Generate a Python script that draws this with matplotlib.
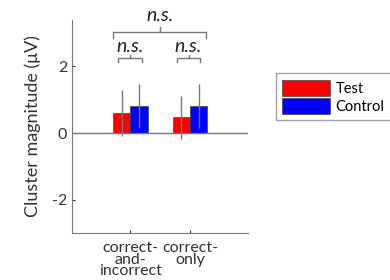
import matplotlib
matplotlib.use('Agg')
import matplotlib.pyplot as plt
import numpy as np

plt.rcParams['font.family'] = ['Lato', 'DejaVu Sans']
plt.rcParams['axes.unicode_minus'] = False

categories = ['correct-\nand-\nincorrect', 'correct-\nonly']
test_vals = [0.6, 0.47]
test_err = [0.68, 0.65]
control_vals = [0.81, 0.81]
control_err = [0.66, 0.66]
yticks = [-2, 0, 2]

fig = plt.figure(figsize=(3.9, 2.8), dpi=100)
ax = fig.add_axes([0.185, 0.168, 0.451, 0.761])

x = np.arange(1, len(categories) + 1)
w = 0.29
gray = '#777777'
ax.bar(x - w / 2, test_vals, w, color='#ff0000', edgecolor='#444444', linewidth=0.5, label='Test')
ax.bar(x + w / 2, control_vals, w, color='#0000ff', edgecolor='#444444', linewidth=0.5, label='Control')
ax.errorbar(x - w / 2, test_vals, yerr=test_err, fmt='none', ecolor=gray, elinewidth=1, capsize=0)
ax.errorbar(x + w / 2, control_vals, yerr=control_err, fmt='none', ecolor=gray, elinewidth=1, capsize=0)
ax.axhline(0, color=gray, linewidth=1)

ax.set_xlim(0.03, 2.97)
ax.set_ylim(-3, 3.4)
ax.set_yticks(yticks)
ax.set_xticks(x)
ax.set_xticklabels(categories, linespacing=0.75)
ax.tick_params(colors='#333333', labelsize=11.5, length=2, direction='in')
ax.tick_params(axis='x', pad=6)
for s in ['top', 'right']:
    ax.spines[s].set_visible(False)
for s in ['left', 'bottom']:
    ax.spines[s].set_color(gray)
ax.set_ylabel('Cluster magnitude (\u03bcV)', fontsize=13, color='#333333', labelpad=8)

# significance brackets
def bracket(x0, x1, y, drop, up, label, ty):
    xm = (x0 + x1) / 2
    ax.plot([x0, x0, x1, x1], [y - drop, y, y, y - drop], color=gray, lw=1, clip_on=False)
    ax.plot([xm, xm], [y, y + up], color=gray, lw=1, clip_on=False)
    ax.text(xm, ty, label, ha='center', va='center', fontsize=14, style='italic',
            color='#222222', clip_on=False)

bracket(0.72, 2.27, 3.04, 0.17, 0.15, 'n.s.', 3.52)
bracket(0.8, 1.2, 2.27, 0.15, 0.09, 'n.s.', 2.6)
bracket(1.78, 2.17, 2.27, 0.15, 0.09, 'n.s.', 2.6)

leg = fig.legend(loc='upper left', bbox_to_anchor=(0.707, 0.738), frameon=True, fancybox=False,
                 fontsize=10.5, handlelength=3.3, handleheight=1.3, borderpad=0.45,
                 labelspacing=0.15, handletextpad=0.35, borderaxespad=0)
leg.get_frame().set_edgecolor('#888888')

fig.savefig('out.png', dpi=100)
